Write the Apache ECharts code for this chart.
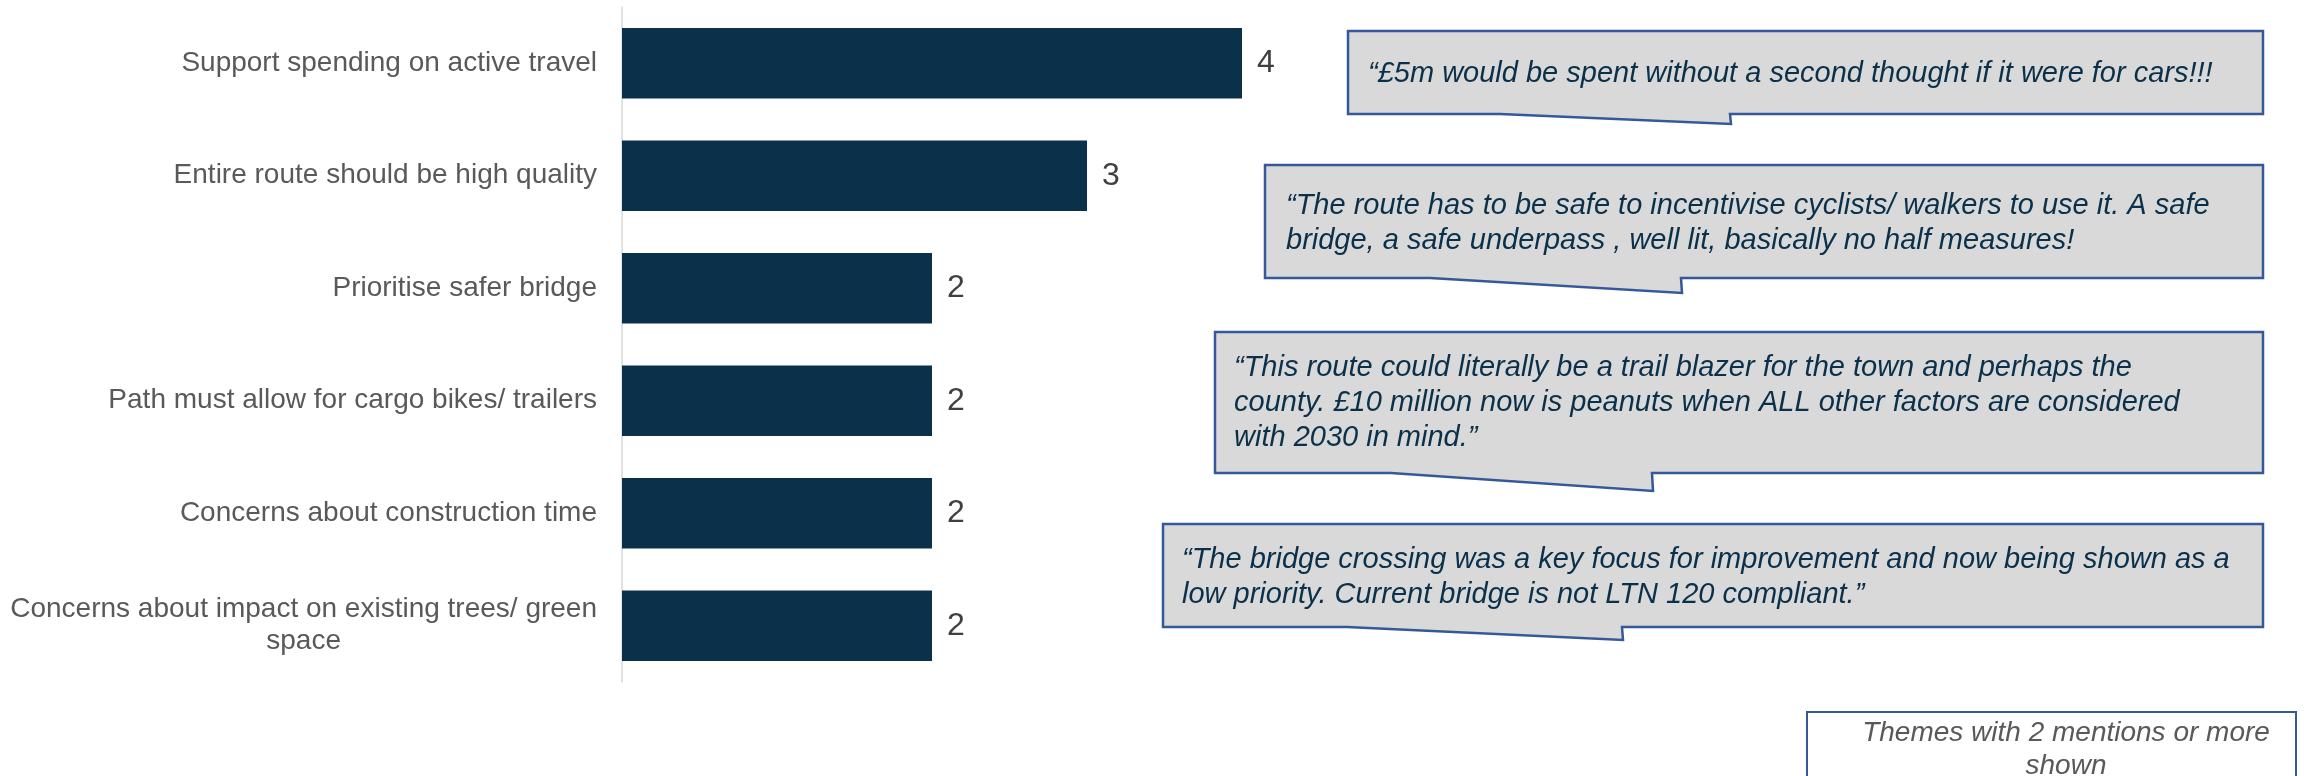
<!DOCTYPE html>
<html>
<head>
<meta charset="utf-8">
<title>Themes mentioned</title>
<script src="https://cdn.jsdelivr.net/npm/echarts@6/dist/echarts.min.js"></script>
<style>
  html, body { margin: 0; padding: 0; background: #ffffff; }
  #chart { width: 2313px; height: 776px; }
</style>
</head>
<body>
<div id="chart"></div>
<script>
// Themes and how many times each was mentioned
const categories = [
  'Support spending on active travel',
  'Entire route should be high quality',
  'Prioritise safer bridge',
  'Path must allow for cargo bikes/ trailers',
  'Concerns about construction time',
  'Concerns about impact on existing trees/ green space'
];
const mentions = [4, 3, 2, 2, 2, 2];
const axisTicks = [0, 1, 2, 3, 4];

// Quotes shown in the speech bubbles
const quotes = [
  '\u201C\u00A35m would be spent without a second thought if it were for cars!!!',
  '\u201CThe route has to be safe to incentivise cyclists/ walkers to use it. A safe\nbridge, a safe underpass , well lit, basically no half measures!',
  '\u201CThis route could literally be a trail blazer for the town and perhaps the\ncounty. \u00A310 million now is peanuts when ALL other factors are considered\nwith 2030 in mind.\u201D',
  '\u201CThe bridge crossing was a key focus for improvement and now being shown as a\nlow priority. Current bridge is not LTN 120 compliant.\u201D'
];
const footnote = 'Themes with 2 mentions or more\nshown';

const FONT = '"Liberation Sans", Arial, sans-serif';
const BAR = '#0B304A';
const BUBBLE_FILL = '#D9D9D9';
const BUBBLE_EDGE = '#35589A';

// Word-wrap long category names to a pixel width
const measureCtx = document.createElement('canvas').getContext('2d');
measureCtx.font = '28px ' + FONT;
function wrapLabel(text, maxWidth) {
  const words = text.split(' ');
  const lines = [];
  let cur = '';
  words.forEach(w => {
    const trial = cur ? cur + ' ' + w : w;
    if (cur && measureCtx.measureText(trial).width > maxWidth) {
      lines.push(cur);
      cur = w;
    } else {
      cur = trial;
    }
  });
  if (cur) lines.push(cur);
  return lines;
}

// Speech bubble: rectangle with a thin wedge tail hanging from its bottom edge
function bubble(left, top, right, bottom, tailStart, tailX, tailTip, text, textX, textY) {
  return {
    type: 'group',
    children: [
      {
        type: 'polygon',
        shape: {
          points: [
            [left, top], [right, top], [right, bottom],
            [tailX, bottom], [tailX + 1, tailTip], [tailStart, bottom],
            [left, bottom]
          ]
        },
        style: { fill: BUBBLE_FILL, stroke: BUBBLE_EDGE, lineWidth: 2.5, lineJoin: 'miter' }
      },
      {
        type: 'text',
        x: textX,
        y: textY,
        style: {
          text: text,
          font: 'italic 29px ' + FONT,
          fill: BAR,
          lineHeight: 35,
          align: 'left',
          verticalAlign: 'middle'
        }
      }
    ]
  };
}

const chart = echarts.init(document.getElementById('chart'), null, { renderer: 'canvas' });

chart.setOption({
  animation: false,
  backgroundColor: '#ffffff',
  grid: { left: 622, top: 7, width: 620, height: 675, containLabel: false },
  xAxis: {
    type: 'value',
    min: axisTicks[0],
    max: axisTicks[axisTicks.length - 1],
    interval: 1,
    show: false,
    splitLine: { show: false }
  },
  yAxis: {
    type: 'category',
    data: categories,
    inverse: true,
    axisLine: { show: true, lineStyle: { color: '#D9D9D9', width: 1.5 } },
    axisTick: { show: false },
    axisLabel: {
      margin: 25,
      color: '#595959',
      fontSize: 28,
      fontFamily: FONT,
      align: 'right',
      formatter: function (value) {
        const lines = wrapLabel(value, 600);
        if (lines.length === 1) return value;
        return lines.map(l => '{m|' + l + '}').join('\n');
      },
      rich: {
        m: { align: 'center', fontSize: 28, fontFamily: FONT, color: '#595959', lineHeight: 32 }
      }
    }
  },
  series: [{
    type: 'bar',
    data: mentions,
    barCategoryGap: '37.5%',
    itemStyle: { color: BAR },
    label: {
      show: true,
      position: 'right',
      distance: 15,
      color: '#404040',
      fontSize: 32,
      fontFamily: FONT
    }
  }],
  graphic: [
    bubble(1348, 31, 2263, 114, 1500, 1730, 124, quotes[0], 1368, 74),
    bubble(1265, 165, 2263, 278, 1430, 1681, 293, quotes[1], 1286, 223),
    bubble(1215, 332, 2263, 473, 1391, 1652, 491, quotes[2], 1234, 403),
    bubble(1163, 524, 2263, 627, 1347, 1622, 640, quotes[3], 1182, 577),
    {
      type: 'rect',
      shape: { x: 1807, y: 712, width: 489, height: 100 },
      style: { fill: '#ffffff', stroke: BUBBLE_EDGE, lineWidth: 2 }
    },
    {
      type: 'text',
      x: 2066,
      y: 750,
      style: {
        text: footnote,
        font: 'italic 28px ' + FONT,
        fill: '#595959',
        lineHeight: 33,
        align: 'center',
        verticalAlign: 'middle'
      }
    }
  ]
});
</script>
</body>
</html>
